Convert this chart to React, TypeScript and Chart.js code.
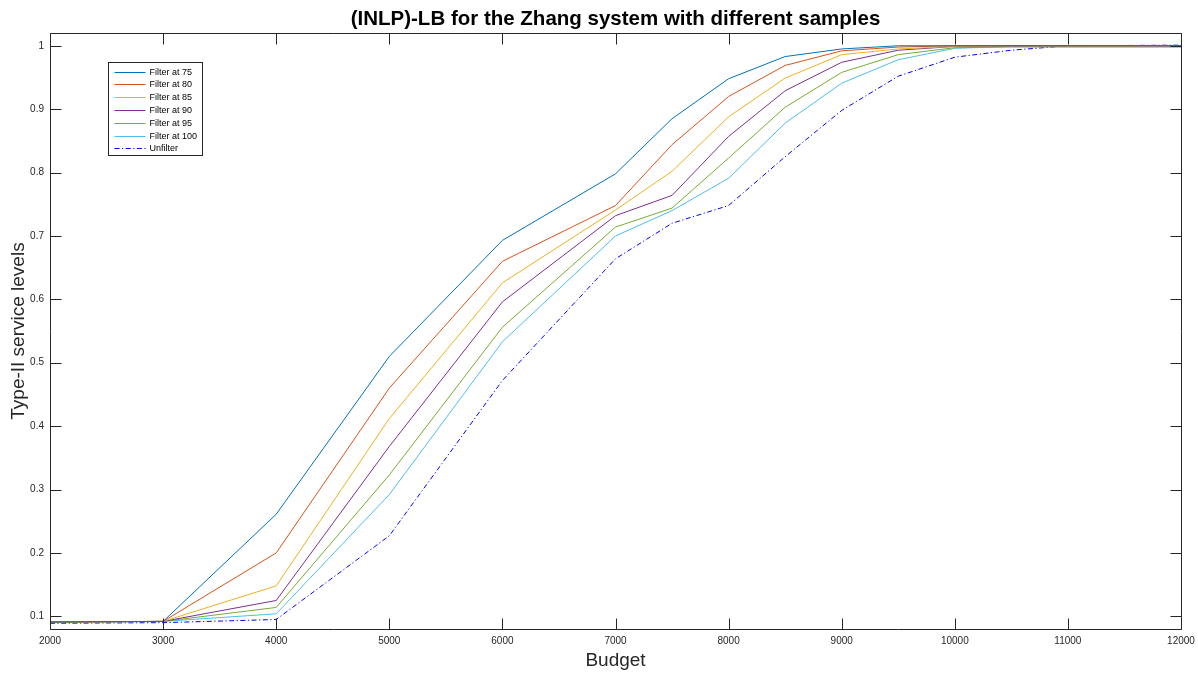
import React, { useEffect, useRef } from "react";
import { Chart, registerables } from "chart.js";

Chart.register(...registerables);

const budgets = [2000, 3000, 4000, 5000, 6000, 7000, 7500, 8000, 8500, 9000, 9500, 10000, 10500, 11000, 12000];
const filter75 = [0.091, 0.092, 0.261, 0.510, 0.693, 0.798, 0.885, 0.948, 0.983, 0.995, 1.0, 1.0, 1.0, 1.0, 1.0];
const filter80 = [0.091, 0.092, 0.200, 0.460, 0.660, 0.748, 0.844, 0.920, 0.969, 0.992, 0.998, 1.0, 1.0, 1.0, 1.0];
const filter85 = [0.091, 0.092, 0.148, 0.412, 0.626, 0.741, 0.802, 0.888, 0.949, 0.986, 0.995, 0.999, 1.0, 1.0, 1.0];
const filter90 = [0.091, 0.092, 0.125, 0.368, 0.596, 0.732, 0.764, 0.857, 0.929, 0.974, 0.993, 0.999, 1.0, 1.0, 1.0];
const filter95 = [0.091, 0.092, 0.114, 0.323, 0.556, 0.714, 0.744, 0.823, 0.903, 0.958, 0.986, 0.997, 0.998, 0.998, 0.998];
const filter100 = [0.091, 0.092, 0.104, 0.292, 0.533, 0.700, 0.740, 0.791, 0.878, 0.941, 0.978, 0.996, 0.999, 1.0, 1.0];
const unfilter = [0.089, 0.090, 0.095, 0.227, 0.472, 0.664, 0.720, 0.748, 0.825, 0.898, 0.952, 0.982, 0.993, 1.0, 1.001];

const seriesLabels = ["Filter at 75", "Filter at 80", "Filter at 85", "Filter at 90", "Filter at 95", "Filter at 100", "Unfilter"];
const seriesColors = ["#0072BD", "#D95319", "#EDB120", "#7E2F8E", "#77AC30", "#4DBEEE", "#0000FF"];
const seriesValues = [filter75, filter80, filter85, filter90, filter95, filter100, unfilter];

const xTicks = [2000, 3000, 4000, 5000, 6000, 7000, 8000, 9000, 10000, 11000, 12000];
const yTicks = [0.1, 0.2, 0.3, 0.4, 0.5, 0.6, 0.7, 0.8, 0.9, 1];

const titleText = "(INLP)-LB for the Zhang system with different samples";
const xTitle = "Budget";
const yTitle = "Type-II service levels";

const AXIS_COLOR = "#262626";
const FONT = "'Liberation Sans', Arial, Helvetica, sans-serif";

const framePlugin = {
  id: "matlabFrame",
  afterDatasetsDraw(chart: any) {
    const { ctx, chartArea } = chart;
    const { left, right, top, bottom } = chartArea;
    const xs = chart.scales.x;
    const ys = chart.scales.y;
    const tl = 11;
    ctx.save();
    ctx.strokeStyle = AXIS_COLOR;
    ctx.lineWidth = 1;
    ctx.setLineDash([]);
    ctx.beginPath();
    const L = Math.round(left) + 0.5;
    const R = Math.round(right) + 0.5;
    const T = Math.round(top) + 0.5;
    const B = Math.round(bottom) + 0.5;
    ctx.rect(L, T, R - L, B - T);
    xs.ticks.forEach((t: any) => {
      const px = Math.round(xs.getPixelForValue(t.value)) + 0.5;
      ctx.moveTo(px, B);
      ctx.lineTo(px, B - tl);
      ctx.moveTo(px, T);
      ctx.lineTo(px, T + tl);
    });
    ys.ticks.forEach((t: any) => {
      const py = Math.round(ys.getPixelForValue(t.value)) + 0.5;
      ctx.moveTo(L, py);
      ctx.lineTo(L + tl, py);
      ctx.moveTo(R, py);
      ctx.lineTo(R - tl, py);
    });
    ctx.stroke();

    // legend box
    const bx = Math.round(left) + 58.5;
    const by = Math.round(top) + 29.5;
    const bw = 94;
    const bh = 93;
    ctx.fillStyle = "#ffffff";
    ctx.fillRect(bx, by, bw, bh);
    ctx.strokeStyle = AXIS_COLOR;
    ctx.lineWidth = 1;
    ctx.strokeRect(bx, by, bw, bh);
    ctx.font = `9px ${FONT}`;
    ctx.textBaseline = "middle";
    ctx.textAlign = "left";
    chart.data.datasets.forEach((ds: any, i: number) => {
      const yy = Math.round(by + 9 + i * 12.8) + 0.5;
      ctx.strokeStyle = ds.borderColor;
      ctx.lineWidth = 1;
      ctx.setLineDash(ds.borderDash || []);
      ctx.beginPath();
      ctx.moveTo(bx + 6, yy);
      ctx.lineTo(bx + 37, yy);
      ctx.stroke();
      ctx.setLineDash([]);
      ctx.fillStyle = "#000000";
      ctx.fillText(ds.label, bx + 41, yy);
    });
    ctx.restore();
  },
};

export default function App() {
  const canvasRef = useRef<HTMLCanvasElement | null>(null);

  useEffect(() => {
    document.body.style.margin = "0";
    const canvas = canvasRef.current;
    if (!canvas) return;
    Chart.defaults.font.family = FONT;

    const datasets = seriesLabels.map((label, i) => ({
      label,
      data: budgets.map((b, j) => ({ x: b, y: seriesValues[i][j] })),
      borderColor: seriesColors[i],
      backgroundColor: seriesColors[i],
      borderWidth: 1,
      borderDash: i === 6 ? [5, 2.5, 1.2, 2.5] : [],
      pointRadius: 0,
      tension: 0,
      fill: false,
    }));

    const chart = new Chart(canvas, {
      type: "line",
      data: { datasets },
      plugins: [framePlugin],
      options: {
        animation: false,
        responsive: false,
        maintainAspectRatio: false,
        layout: { padding: { left: 0, right: 17, top: 0, bottom: 0 } },
        plugins: {
          legend: { display: false },
          tooltip: { enabled: false },
          title: {
            display: true,
            fullSize: false,
            text: titleText,
            color: "#000000",
            font: { size: 20.5, weight: "bold", family: FONT },
            padding: { top: 7.5, bottom: 1 },
          },
        },
        scales: {
          x: {
            type: "linear",
            min: 2000,
            max: 12000,
            afterBuildTicks: (scale: any) => {
              scale.ticks = xTicks.map((v) => ({ value: v }));
            },
            afterFit: (scale: any) => {
              scale.height = 45;
              scale.paddingLeft = 0;
              scale.paddingRight = 0;
            },
            grid: { display: false, drawTicks: false },
            border: { display: false },
            ticks: {
              color: AXIS_COLOR,
              font: { size: 10, family: FONT },
              padding: 6,
              maxRotation: 0,
              autoSkip: false,
              callback: (v: any) => String(v),
            },
            title: {
              display: true,
              text: xTitle,
              color: AXIS_COLOR,
              font: { size: 19, family: FONT },
              padding: { top: 0, bottom: 2 },
            },
          },
          y: {
            type: "linear",
            min: 0.08,
            max: 1.02,
            afterBuildTicks: (scale: any) => {
              scale.ticks = yTicks.map((v) => ({ value: v }));
            },
            afterFit: (scale: any) => {
              scale.width = 50;
              scale.paddingTop = 0;
              scale.paddingBottom = 0;
            },
            grid: { display: false, drawTicks: false },
            border: { display: false },
            ticks: {
              color: AXIS_COLOR,
              font: { size: 10, family: FONT },
              padding: 6,
              autoSkip: false,
              callback: (v: any) => String(Number(Number(v).toFixed(2))),
            },
            title: {
              display: true,
              text: yTitle,
              color: AXIS_COLOR,
              font: { size: 19, family: FONT },
              padding: { top: 7, bottom: 0 },
            },
          },
        },
      },
    } as any);

    return () => chart.destroy();
  }, []);

  return (
    <div style={{ width: 1198, height: 674, background: "#ffffff" }}>
      <canvas ref={canvasRef} width={1198} height={674} style={{ display: "block", width: 1198, height: 674 }} />
    </div>
  );
}
